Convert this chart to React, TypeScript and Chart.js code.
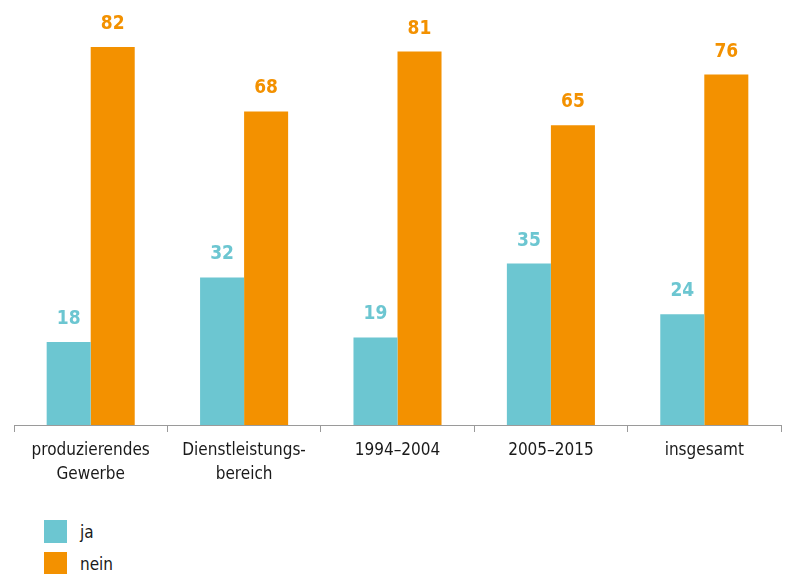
import React, { useEffect, useRef } from "react";
import { Chart, registerables } from "chart.js";

Chart.register(...registerables);

const categories: (string | string[])[] = [
  ["produzierendes", "Gewerbe"],
  ["Dienstleistungs-", "bereich"],
  "1994–2004",
  "2005–2015",
  "insgesamt",
];
const jaValues = [18, 32, 19, 35, 24];
const neinValues = [82, 68, 81, 65, 76];
const seriesNames = ["ja", "nein"];
const colors = ["#6CC6D1", "#F39100"];

const FONT = "'Liberation Sans Narrow', 'DejaVu Sans Condensed', 'Roboto', sans-serif";

const valueLabels = {
  id: "valueLabels",
  afterDatasetsDraw(chart: any) {
    const ctx = chart.ctx;
    ctx.save();
    ctx.font = `bold 19px ${FONT}`;
    ctx.textAlign = "center";
    ctx.textBaseline = "alphabetic";
    chart.data.datasets.forEach((ds: any, i: number) => {
      const meta = chart.getDatasetMeta(i);
      ctx.fillStyle = ds.backgroundColor;
      meta.data.forEach((bar: any, j: number) => {
        ctx.fillText(String(ds.data[j]), bar.x, bar.y - 18);
      });
    });
    ctx.restore();
  },
};

export default function App() {
  const ref = useRef<HTMLCanvasElement>(null);
  useEffect(() => {
    document.body.style.margin = "0";
    const chart = new Chart(ref.current!, {
      type: "bar",
      data: {
        labels: categories,
        datasets: [
          { label: seriesNames[0], data: jaValues, backgroundColor: colors[0] },
          { label: seriesNames[1], data: neinValues, backgroundColor: colors[1] },
        ],
      },
      options: {
        animation: false,
        responsive: false,
        layout: { padding: { left: 14, right: 6, top: 10, bottom: 0 } },
        plugins: { legend: { display: false }, tooltip: { enabled: false } },
        datasets: { bar: { categoryPercentage: 0.574, barPercentage: 1 } },
        scales: {
          x: {
            grid: {
              offset: true,
              drawOnChartArea: false,
              drawTicks: true,
              tickLength: 7,
              color: "#9a9a9a",
            },
            border: { color: "#9a9a9a", width: 1 },
            ticks: {
              color: "#1a1a1a",
              font: { family: FONT, size: 17, lineHeight: 1.4 },
              padding: 7,
              maxRotation: 0,
              autoSkip: false,
            },
            afterFit: (axis: any) => {
              axis.height = 75;
            },
          },
          y: { display: false, min: 0, max: 90 },
        },
      },
      plugins: [valueLabels],
    });
    return () => chart.destroy();
  }, []);

  const legendItem = (i: number, top: number) => (
    <div style={{ position: "absolute", left: 44, top, display: "flex", alignItems: "center" }}>
      <div style={{ width: 23, height: 23, background: colors[i] }} />
      <span style={{ marginLeft: 13, font: `17px ${FONT}`, color: "#1a1a1a" }}>{seriesNames[i]}</span>
    </div>
  );

  return (
    <div style={{ position: "relative", width: 787, height: 574, background: "#fff", overflow: "hidden" }}>
      <canvas ref={ref} width={787} height={500} style={{ position: "absolute", left: 0, top: 0 }} />
      {legendItem(0, 520)}
      {legendItem(1, 552)}
    </div>
  );
}
